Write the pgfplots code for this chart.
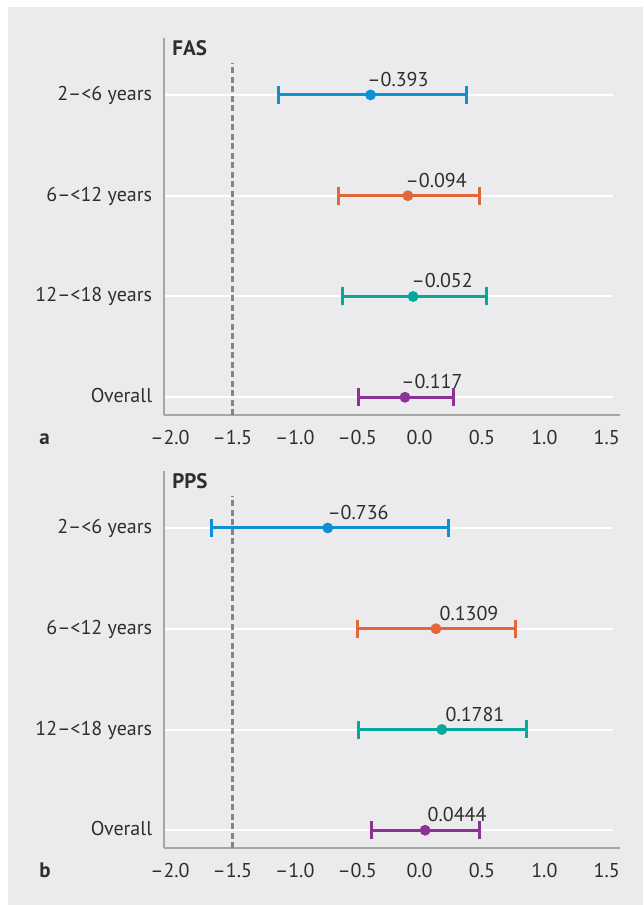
\documentclass[border=0pt]{standalone}
\usepackage{fontspec}
\setmainfont{PT Sans}
\usepackage{pgfplots}
\usepackage{pgfplotstable}
\pgfplotsset{compat=1.18}

\definecolor{bg}{HTML}{EBEBED}
\definecolor{axgray}{HTML}{A6A6A6}
\definecolor{dashgray}{HTML}{858585}
\definecolor{txt}{HTML}{2E2E2E}
\definecolor{c0}{HTML}{0E8FD6}
\definecolor{c1}{HTML}{E2673B}
\definecolor{c2}{HTML}{03A99B}
\definecolor{c3}{HTML}{8C3294}

% row y, estimate x, lower, upper, label text, label shift (pt)
\pgfplotstableread{
y x lo hi lab dx
4 -0.393 -1.128 0.374 –0.393 -1.75
3 -0.094 -0.649 0.478 –0.094 -1.3
2 -0.052 -0.621 0.539 –0.052 -0.9
1 -0.117 -0.488 0.272 –0.117 -2.0
}\fas

\pgfplotstableread{
y x lo hi lab dx
4 -0.736 -1.664 0.232 –0.736 -0.3
3 0.1309 -0.497 0.771 0.1309 1.65
2 0.1781 -0.488 0.854 0.1781 1.7
1 0.0444 -0.387 0.480 0.0444 1.1
}\pps

\pgfplotsset{
  forest/.style={
    scale only axis, width=228pt, height=188.5pt,
    xmin=-2.048, xmax=1.606, ymin=0.824, ymax=4.565,
    axis x line=bottom, axis y line=left,
    axis line style={draw=axgray, line width=1.2pt, -},
    major tick length=0pt,
    xtick={-2,-1.5,-1,-0.5,0,0.5,1,1.5},
    xticklabels={–2.0,–1.5,–1.0,–0.5,0.0,0.5,1.0,1.5},
    ytick={1,2,3,4},
    yticklabels={Overall,12–<18 years,6–<12 years,2–<6 years},
    tick label style={font=\fontsize{10}{12}\selectfont, text=txt},
    xticklabel style={anchor=base, inner sep=0pt, yshift=-14.5pt},
    yticklabel style={anchor=base east, inner sep=0pt, xshift=-5.75pt, yshift=-2.75pt},
    clip=false,
  },
}

\newcommand{\panel}[2]{%
  \pgfplotsinvokeforeach{1,...,4}{%
    \addplot[white, line width=1pt, forget plot] coordinates {(-2.04,##1) (1.55,##1)};}
  \addplot[dashgray, dash pattern=on 3pt off 1.75pt, line width=1.3pt, forget plot]
    coordinates {(-1.5,0.824) (-1.5,4.317)};
  \pgfplotsinvokeforeach{0,...,3}{%
    \addplot[color=c##1, only marks, mark=*, mark size=2.5pt,
      nodes near coords, point meta=explicit symbolic,
      visualization depends on={\thisrow{dx} \as \dx},
      every node near coord/.append style={anchor=base west, inner sep=0pt,
        xshift=\dx pt, yshift=4.25pt, text=txt, font=\fontsize{10}{12}\selectfont},
      restrict expr to domain={\coordindex}{##1:##1},
      error bars/.cd, x dir=both, x explicit, error mark=|,
      error bar style={line width=1.5pt},
      error mark options={line width=1.5pt, mark size=4.5pt}]
    table[x=x, y=y, meta=lab,
      x error plus expr=\thisrow{hi}-\thisrow{x},
      x error minus expr=\thisrow{x}-\thisrow{lo}] {#1};}
  \node[anchor=base west, inner sep=0pt, text=txt,
    font=\bfseries\fontsize{10.5}{12}\selectfont, xshift=4pt, yshift=-8.5pt]
    at (rel axis cs:0,1) {#2};
}

\begin{document}
\begin{tikzpicture}
\fill[white] (0,0) rectangle (321.5pt,-452.5pt);
\fill[bg] (4pt,-3.5pt) rectangle (321.5pt,-452.5pt);

\begin{axis}[forest, at={(82pt,-207.5pt)}, anchor=south west]
\panel{\fas}{FAS}
\end{axis}

\begin{axis}[forest, at={(82pt,-424pt)}, anchor=south west]
\panel{\pps}{PPS}
\end{axis}

\node[anchor=base west, inner sep=0pt, text=txt, font=\bfseries\fontsize{10.5}{12}\selectfont]
  at (19.5pt,-222pt) {a};
\node[anchor=base west, inner sep=0pt, text=txt, font=\bfseries\fontsize{10.5}{12}\selectfont]
  at (19.5pt,-438.5pt) {b};
\end{tikzpicture}
\end{document}
